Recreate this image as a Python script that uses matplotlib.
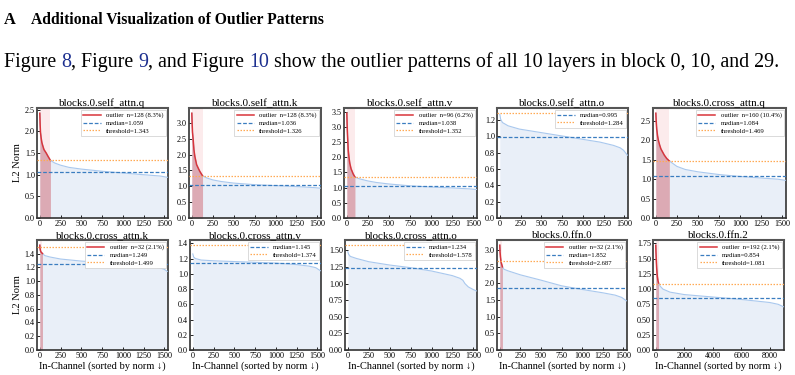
import numpy as np
import matplotlib
matplotlib.use("Agg")
import matplotlib.pyplot as plt
from matplotlib.lines import Line2D
from matplotlib.ticker import MultipleLocator

plt.rcParams['font.family'] = ['Liberation Serif', 'DejaVu Serif']

# ---------------- data ----------------
titles = ["blocks.0.self_attn.q", "blocks.0.self_attn.k", "blocks.0.self_attn.v",
          "blocks.0.self_attn.o", "blocks.0.cross_attn.q", "blocks.0.cross_attn.k",
          "blocks.0.cross_attn.v", "blocks.0.cross_attn.o", "blocks.0.ffn.0", "blocks.0.ffn.2"]
n_channels = [1536, 1536, 1536, 1536, 1536, 1536, 1536, 1536, 1536, 8960]
n_outliers = [128, 128, 96, 0, 160, 32, 0, 0, 32, 192]
outlier_pct = ["8.3%", "8.3%", "6.2%", "", "10.4%", "2.1%", "", "", "2.1%", "2.1%"]
medians = [1.059, 1.036, 1.038, 0.995, 1.084, 1.249, 1.145, 1.234, 1.852, 0.854]
thresholds = [1.343, 1.326, 1.352, 1.284, 1.469, 1.499, 1.374, 1.578, 2.687, 1.081]
ytick_steps = [0.5, 0.5, 0.5, 0.2, 0.5, 0.2, 0.2, 0.25, 0.5, 0.25]
xtick_steps = [250, 250, 250, 250, 250, 250, 250, 250, 250, 2000]

sa_q_x = [0, 4, 8, 16, 25, 37, 50, 77, 100, 128, 180, 250, 350, 500, 750, 1000, 1250, 1450, 1536]
sa_q_y = [2.42, 2.15, 1.98, 1.85, 1.74, 1.66, 1.58, 1.50, 1.42, 1.33, 1.27, 1.22, 1.17, 1.13, 1.08, 1.04, 1.00, 0.97, 0.94]
sa_k_x = [0, 4, 8, 16, 25, 36, 57, 80, 97, 128, 180, 250, 350, 500, 750, 1000, 1250, 1450, 1536]
sa_k_y = [3.30, 2.95, 2.70, 2.47, 2.15, 1.94, 1.68, 1.55, 1.46, 1.33, 1.26, 1.20, 1.15, 1.10, 1.05, 1.02, 0.99, 0.96, 0.94]
sa_v_x = [0, 3, 6, 10, 16, 25, 35, 50, 75, 96, 150, 250, 350, 500, 750, 1000, 1250, 1450, 1536]
sa_v_y = [3.45, 3.10, 2.85, 2.60, 2.25, 2.00, 1.80, 1.62, 1.45, 1.35, 1.29, 1.22, 1.17, 1.12, 1.06, 1.02, 0.99, 0.96, 0.94]
sa_o_x = [0, 10, 32, 100, 235, 478, 721, 964, 1207, 1369, 1450, 1490, 1536]
sa_o_y = [1.27, 1.21, 1.17, 1.13, 1.09, 1.05, 1.01, 0.97, 0.93, 0.89, 0.86, 0.83, 0.77]
ca_q_x = [0, 4, 10, 20, 30, 45, 60, 80, 100, 130, 160, 250, 350, 500, 750, 1000, 1250, 1450, 1536]
ca_q_y = [2.70, 2.50, 2.30, 2.12, 2.00, 1.88, 1.78, 1.70, 1.62, 1.53, 1.47, 1.33, 1.25, 1.19, 1.12, 1.07, 1.03, 1.00, 0.97]
ca_k_x = [0, 3, 8, 15, 32, 60, 120, 250, 500, 750, 1000, 1250, 1450, 1500, 1536]
ca_k_y = [1.52, 1.47, 1.44, 1.42, 1.40, 1.37, 1.35, 1.32, 1.29, 1.27, 1.24, 1.22, 1.19, 1.17, 1.14]
ca_v_x = [0, 10, 30, 100, 250, 500, 750, 1000, 1250, 1400, 1480, 1536]
ca_v_y = [1.26, 1.22, 1.20, 1.18, 1.17, 1.16, 1.15, 1.14, 1.12, 1.10, 1.08, 1.04]
ca_o_x = [0, 10, 30, 100, 250, 500, 750, 1000, 1250, 1340, 1375, 1400, 1440, 1500, 1536]
ca_o_y = [1.48, 1.44, 1.41, 1.38, 1.33, 1.28, 1.24, 1.19, 1.12, 1.08, 1.05, 1.00, 0.95, 0.91, 0.89]
ffn0_x = [0, 3, 8, 15, 32, 50, 100, 250, 500, 750, 1000, 1250, 1400, 1480, 1536]
ffn0_y = [3.15, 2.95, 2.80, 2.65, 2.50, 2.43, 2.38, 2.26, 2.10, 1.93, 1.82, 1.72, 1.65, 1.58, 1.48]
ffn2_x = [0, 10, 30, 60, 100, 150, 192, 300, 500, 1000, 2000, 4000, 6000, 8000, 8600, 8960]
ffn2_y = [1.72, 1.62, 1.50, 1.35, 1.22, 1.14, 1.10, 1.05, 1.00, 0.95, 0.91, 0.87, 0.83, 0.78, 0.75, 0.71]

curves_x = [sa_q_x, sa_k_x, sa_v_x, sa_o_x, ca_q_x, ca_k_x, ca_v_x, ca_o_x, ffn0_x, ffn2_x]
curves_y = [sa_q_y, sa_k_y, sa_v_y, sa_o_y, ca_q_y, ca_k_y, ca_v_y, ca_o_y, ffn0_y, ffn2_y]

heading_label = "A"
heading_text = "Additional Visualization of Outlier Patterns"
body_parts = [("Figure ", False), ("8", True), (", Figure ", False), ("9", True),
              (", and Figure ", False), ("10", True),
              (" show the outlier patterns of all 10 layers in block 0, 10, and 29.", False)]

# ---------------- layout ----------------
W, H = 795, 375
fig = plt.figure(figsize=(W / 100, H / 100), dpi=100)
renderer = fig.canvas.get_renderer()

def px_w(s, **kw):
    t = fig.text(0, 0, s, **kw)
    w = t.get_window_extent(renderer).width
    t.remove()
    return w

# heading
hsize = 14.0
hsize *= 292.0 / px_w(heading_text, fontsize=hsize, fontweight='bold')
fig.text(4 / W, 1 - 24 / H, heading_label, fontsize=hsize * 1.05, fontweight='bold', va='baseline')
fig.text(31 / W, 1 - 24 / H, heading_text, fontsize=hsize, fontweight='bold', va='baseline')

# body line
full = "".join(p for p, _ in body_parts)
bsize = 12.0
bsize *= 772.0 / px_w(full, fontsize=bsize)
ref_w = px_w("|", fontsize=bsize)
prefix = ""
for part, is_link in body_parts:
    xoff = 4 + (px_w(prefix + "|", fontsize=bsize) - ref_w if prefix else 0)
    fig.text(xoff / W, 1 - 67 / H, part, fontsize=bsize, va='baseline',
             color='#1c2f8f' if is_link else 'black')
    prefix += part

# axes boxes in pixels (left, right, top, bottom)
boxes = [(37, 168, 108, 218), (189, 321, 108, 218), (344, 477, 108, 218),
         (497, 628, 108, 218), (653, 786, 108, 218),
         (37, 168, 240, 350), (190, 321, 240, 350), (345, 477, 240, 350),
         (497, 627, 240, 350), (653, 784, 240, 350)]

c_line = '#a9c8ee'
c_fill = '#e9eff8'
c_red = '#d9343a'
c_redfill = '#dcaab4'
c_band = '#fcebec'
c_med = '#3a7dc0'
c_thr = '#ffaa55'

for i in range(10):
    l, r, t, b = boxes[i]
    ax = fig.add_axes([l / W, 1 - b / H, (r - l) / W, (b - t) / H])
    x = np.array(curves_x[i], dtype=float)
    y = np.array(curves_y[i], dtype=float)
    N = n_channels[i]
    n = n_outliers[i]

    ax.fill_between(x, 0, y, color=c_fill, lw=0, zorder=1)
    ax.plot(x, y, color=c_line, lw=0.8, zorder=3)
    handles = []
    if n > 0:
        ax.axvspan(0, n, color=c_band, lw=0, zorder=0.5)
        m = x <= n
        ax.fill_between(x[m], 0, y[m], color=c_redfill, lw=0, zorder=2)
        ax.plot(x[m], y[m], color=c_red, lw=1.1, zorder=4)
        handles.append(Line2D([], [], color=c_red, lw=1.1,
                              label=f"outlier  n={n} ({outlier_pct[i]})"))
    ax.axhline(medians[i], color=c_med, ls=(0, (3, 1.5)), lw=0.9, zorder=5)
    ax.axhline(thresholds[i], color=c_thr, ls=(0, (1.2, 1.2)), lw=0.9, zorder=5)
    handles.append(Line2D([], [], color=c_med, ls=(0, (3, 1.5)), lw=0.9,
                          label=f"median={medians[i]:.3f}"))
    handles.append(Line2D([], [], color=c_thr, ls=(0, (1.2, 1.2)), lw=0.9,
                          label=f"threshold={thresholds[i]:.3f}"))

    ymax = max(y.max(), thresholds[i]) * 1.05
    ax.set_ylim(0, ymax)
    ax.set_xlim(-0.022 * N, N * 1.005)
    ax.yaxis.set_major_locator(MultipleLocator(ytick_steps[i]))
    ax.xaxis.set_major_locator(MultipleLocator(xtick_steps[i]))
    ax.tick_params(direction='in', length=2, width=0.6, labelsize=5.9, pad=1.5,
                   top=False, right=False)
    for s in ax.spines.values():
        s.set_linewidth(1.2)
        s.set_color('#333333')
    ax.spines['top'].set_color('#555555')
    ax.spines['top'].set_linewidth(1.5)
    ax.set_title(titles[i], fontsize=7.9, pad=1.5)
    leg = ax.legend(handles=handles, loc='upper right', fontsize=4.8,
                    handlelength=2.6, borderaxespad=0.3, borderpad=0.35,
                    labelspacing=0.3, handletextpad=0.8, framealpha=1,
                    fancybox=False, edgecolor='#cccccc')
    leg.get_frame().set_linewidth(0.5)
    if i in (0, 5):
        ax.set_ylabel("L2 Norm", fontsize=7.6, labelpad=2)
    if i >= 5:
        ax.set_xlabel("In-Channel (sorted by norm \u2193)", fontsize=7.5, labelpad=1)

fig.savefig("out.png", dpi=100)
